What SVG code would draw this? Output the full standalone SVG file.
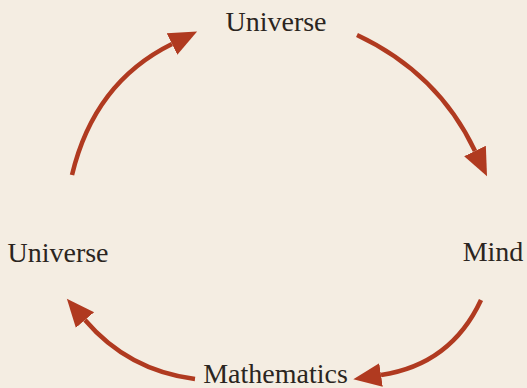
<svg xmlns="http://www.w3.org/2000/svg" width="527" height="388" viewBox="0 0 527 388">
<defs>
<style>
.arc{fill:none;stroke:#b03a20;stroke-width:4.5}
</style>
<marker id="ah" markerUnits="userSpaceOnUse" markerWidth="30" markerHeight="28" refX="0" refY="12" orient="auto" viewBox="0 0 30 24">
<path d="M0,0 L28,12 L0,24 z" fill="#b03a20"/>
</marker>
</defs>
<rect width="527" height="388" fill="#f4ede2"/>
<g id="connectors">
<path class="arc" d="M72,175 Q94,82.5 172,44" marker-end="url(#ah)"/>
<path class="arc" d="M357,35 Q438,73 475,151" marker-end="url(#ah)"/>
<path class="arc" d="M481,300 Q451,364.5 381,375" marker-end="url(#ah)"/>
<path class="arc" d="M195,379 Q128,370.5 85,320" marker-end="url(#ah)"/>
</g>
<g font-family="'Liberation Serif', 'DejaVu Serif', serif" font-size="28" fill="#2b2520" text-anchor="middle">
<g id="universe-top"><text x="276" y="31">Universe</text></g>
<g id="mind"><text x="493" y="261">Mind</text></g>
<g id="mathematics"><text x="275.5" y="383">Mathematics</text></g>
<g id="universe-left"><text x="58" y="262">Universe</text></g>
</g>
</svg>
